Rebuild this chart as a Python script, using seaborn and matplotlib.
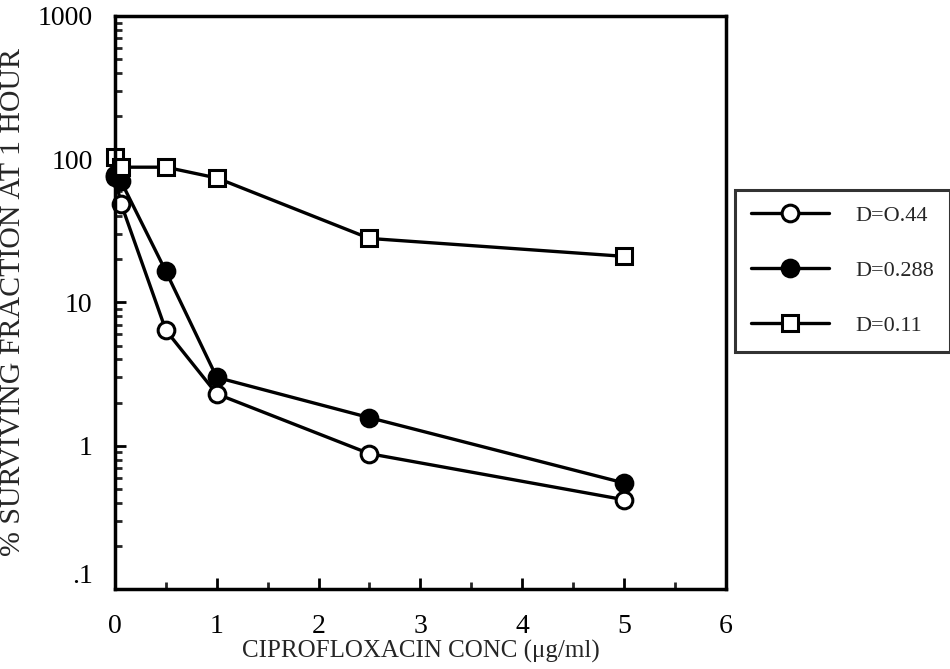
import matplotlib
matplotlib.use("Agg")
import matplotlib.pyplot as plt
import matplotlib.ticker as mticker
import numpy as np
import pandas as pd
import seaborn as sns

# Ciprofloxacin concentration (ug/ml)
conc = [0, 0.06, 0.5, 1, 2.5, 5]

# % surviving fraction at 1 hour for each dilution rate
surv_044 = [75, 49, 6.4, 2.3, 0.88, 0.42]
surv_0288 = [78, 70, 16.5, 3.0, 1.57, 0.55]
surv_011 = [103, 88, 88, 74, 28, 21]

series_labels = ["D=O.44", "D=0.288", "D=0.11"]
y_tick_vals = [0.1, 1, 10, 100, 1000]
y_tick_text = [".1", "1", "10", "100", "1000"]
x_tick_vals = [0, 1, 2, 3, 4, 5, 6]

sns.set_theme(style="white")
plt.rcParams["font.family"] = ["Liberation Serif", "DejaVu Serif"]

fig = plt.figure(figsize=(9.5, 6.69), dpi=100)
ax = fig.add_axes([0.121, 0.1196, 0.643, 0.8565])

df = pd.DataFrame({
    "conc": conc * 3,
    "surv": surv_044 + surv_0288 + surv_011,
    "series": np.repeat(series_labels, len(conc)),
})

styles = {
    series_labels[0]: dict(marker="o", markerfacecolor="white"),
    series_labels[1]: dict(marker="o", markerfacecolor="black"),
    series_labels[2]: dict(marker="s", markerfacecolor="white"),
}
for name in series_labels:
    sub = df[df["series"] == name]
    sns.lineplot(data=sub, x="conc", y="surv", ax=ax, color="black",
                 linewidth=2.4, markersize=12, markeredgecolor="black",
                 markeredgewidth=2.2, label=name, clip_on=False,
                 **styles[name])

ax.set_yscale("log")
ax.set_ylim(0.1, 1000)
ax.set_xlim(0, 6)

ax.set_yticks(y_tick_vals)
ax.set_yticklabels(y_tick_text)
ax.yaxis.set_minor_locator(mticker.LogLocator(base=10, subs=np.arange(2, 10)))
ax.yaxis.set_minor_formatter(mticker.NullFormatter())
ax.set_xticks(x_tick_vals)
ax.set_xticklabels([str(v) for v in x_tick_vals])
ax.xaxis.set_minor_locator(mticker.MultipleLocator(0.5))

ax.tick_params(axis="both", which="major", direction="in", length=8, width=2,
               labelsize=20, colors="black", left=True, bottom=True)
ax.tick_params(axis="both", which="minor", direction="in", length=5, width=2,
               left=True, bottom=True)
ax.tick_params(axis="y", which="major", pad=16)
ax.tick_params(axis="x", which="major", pad=18)
# lift the ".1" label slightly above its tick
ax.get_yticklabels()[0].set_va("bottom")

for sp in ax.spines.values():
    sp.set_linewidth(2.5)
    sp.set_color("black")

ax.set_xlabel("CIPROFLOXACIN CONC (\u03bcg/ml)", fontsize=18, labelpad=1)
ax.set_ylabel("% SURVIVING FRACTION AT 1 HOUR", fontsize=21.5, labelpad=8)

leg = ax.legend(loc="upper left", bbox_to_anchor=(0.774, 0.716),
                bbox_transform=fig.transFigure, frameon=True, fancybox=False,
                fontsize=16, handlelength=3.5, handletextpad=1.2,
                labelspacing=1.55, borderpad=0.7, borderaxespad=0)
leg.get_frame().set_edgecolor("black")
leg.get_frame().set_linewidth(2.2)

fig.savefig("out.png", dpi=100, facecolor="white")
